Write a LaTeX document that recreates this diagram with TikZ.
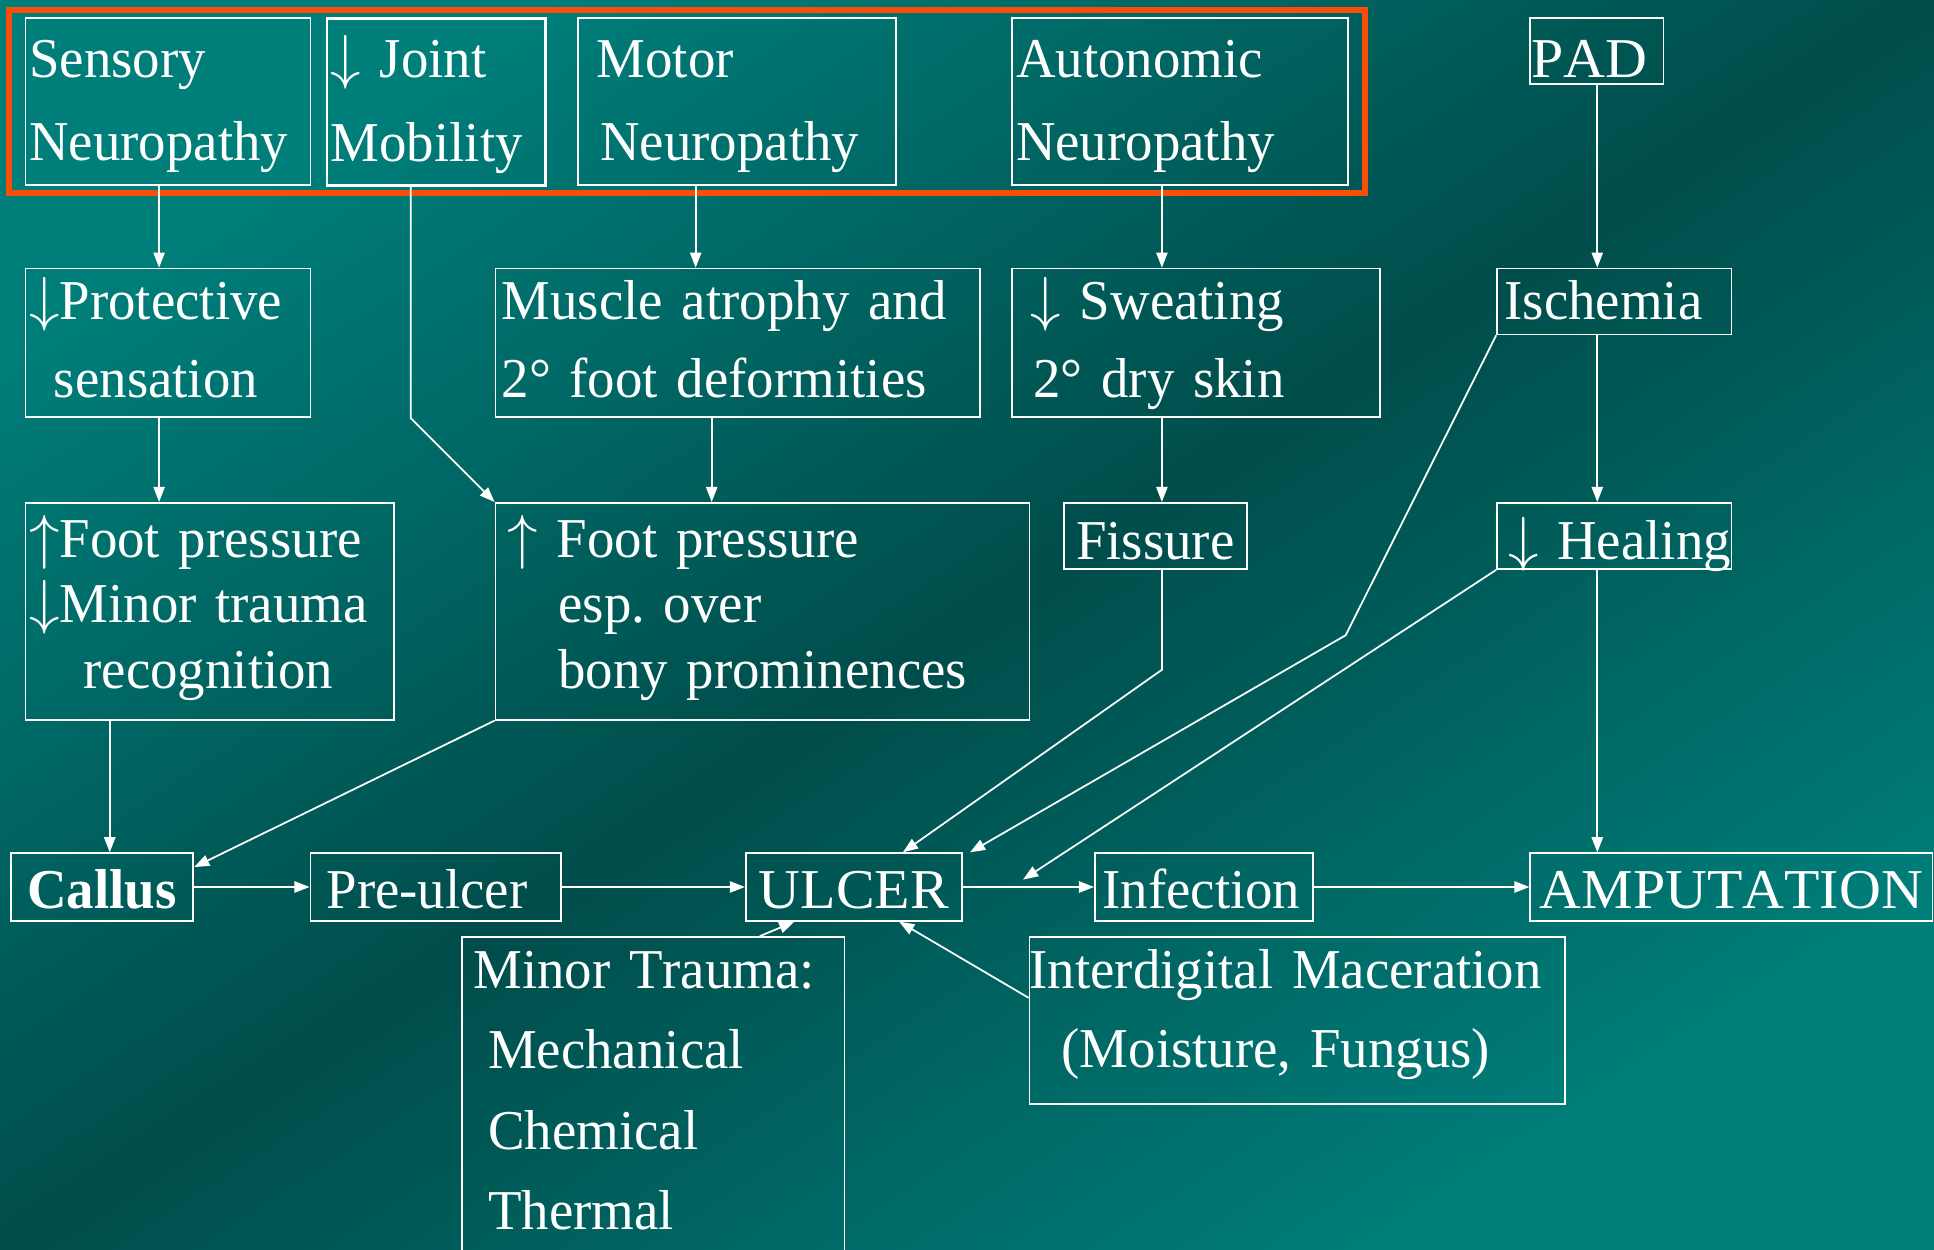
\documentclass[tikz,border=0pt]{standalone}
\usepackage{fontspec}
\setmainfont[Kerning=Off, FakeStretch=0.975]{Liberation Serif}
\newfontfamily\capsfont[Kerning=Off, FakeStretch=1.03]{Liberation Serif}
\usepackage{xcolor}
\usetikzlibrary{arrows.meta,fit}
\frenchspacing

\definecolor{tealL}{RGB}{0,126,122}
\definecolor{tealD}{RGB}{0,77,75}
\definecolor{hiorange}{RGB}{250,78,8}
\newlength{\pxu}
\setlength{\pxu}{0.0123342cm}
\newcommand{\fh}[1]{\rule{0pt}{#1\pxu}}
\newcommand{\ld}[1]{\rule[-#1\pxu]{0pt}{0pt}}
\newcommand{\dn}{$\downarrow$}
\newcommand{\up}{$\uparrow$}

\begin{document}
\begin{tikzpicture}[
      x=0.0123342cm, y=-0.0123342cm,
      box/.style={draw=white, line width=0.5pt, text=white, anchor=north west,
                  inner xsep=3\pxu, inner ysep=0pt, align=left,
                  font=\fontsize{16pt}{20pt}\selectfont},
      lsp/.style={font=\fontsize{16pt}{#1}\selectfont},
      one/.style 2 args={text height=#1\pxu, text depth=#2\pxu},
      arr/.style={draw=white, line width=0.5pt, -{Triangle[length=4.3pt,width=3.2pt]}},
      hilite/.style={draw=hiorange, line width=1.7pt, inner xsep=13\pxu, inner ysep=6\pxu}
    ]
    \useasboundingbox (0,0) rectangle (1568,1013);
    \clip (0,0) rectangle (1568,1013);
    \shade[top color=tealL, bottom color=tealL, middle color=tealD, shading angle=33]
      (0,0) rectangle (1568,1013);

    % Causes row
    \node[box, lsp=23.7pt, text width=225\pxu] (sens) at (20,14) {\fh{48}Sensory\\Neuropathy\ld{19.6}};
    \node[box, lsp=23.7pt, text width=171\pxu, line width=0.75pt] (joint) at (264,14) {\fh{48}\dn{} Joint\\Mobility\ld{19.6}};
    \node[box, lsp=23.7pt, text width=252\pxu] (motor) at (468,14) {\fh{48}\hspace*{12\pxu}Motor\\\hspace*{15\pxu}Neuropathy\ld{19.6}};
    \node[box, lsp=23.7pt, text width=266\pxu] (auto) at (820,14) {\fh{48}Autonomic\\Neuropathy\ld{19.6}};
    \node[box, one={48}{5.4}, text width=102\pxu] (pad) at (1240,14) {\hspace*{-2\pxu}\mbox{\capsfont PAD}};
    \node[hilite, fit=(sens)(auto)] (neuro) {};

    % Second row
    \node[box, lsp=22.3pt, text width=225\pxu] (prot) at (20,217) {\fh{41.3}\dn{}Protective\\\hspace*{20\pxu}sensation\ld{15.7}};
    \node[box, lsp=22.3pt, text width=387\pxu] (musc) at (401,217) {\fh{41.3}\hspace*{2\pxu}Muscle atrophy and\\\hspace*{2\pxu}2° foot deformities\ld{15.7}};
    \node[box, lsp=22.3pt, text width=292\pxu] (sweat) at (820,217) {\fh{41.3}\hspace*{12\pxu}\dn{} Sweating\\\hspace*{14\pxu}2° dry skin\ld{15.7}};
    \node[box, one={41.4}{12}, text width=184\pxu] (isch) at (1213,217) {\hspace*{3\pxu}\mbox{Ischemia}};

    % Third row
    \node[box, lsp=18.5pt, text width=293\pxu] (press) at (20,407) {\fh{44.6}\up{}Foot pressure\\\dn{}Minor trauma\\\hspace*{44\pxu}recognition\ld{25.7}};
    \node[box, lsp=18.5pt, text width=427\pxu] (bony) at (401,407) {\fh{44.6}\hspace*{7\pxu}\up{} Foot pressure\\\hspace*{48\pxu}esp. over\\\hspace*{48\pxu}bony prominences\ld{25.7}};
    \node[box, one={45.6}{8}, text width=142\pxu, align=center] (fiss) at (862,407) {\mbox{Fissure}};
    \node[box, one={45.6}{8}, text width=184\pxu] (heal) at (1213,407) {\hspace*{6\pxu}\mbox{\dn{} Healing}};

    % Ulcer row
    \node[box, one={45}{9.8}, text width=142\pxu, align=center] (callus) at (8,691) {\textbf{Callus}};
    \node[box, one={45}{9.8}, text width=197\pxu] (pre) at (251,691) {\hspace*{10\pxu}\mbox{Pre-ulcer}};
    \node[box, one={45}{9.8}, text width=169\pxu, align=center] (ulcer) at (604,691) {\capsfont ULCER};
    \node[box, one={45}{9.8}, text width=171\pxu] (infect) at (887,691) {\hspace*{3\pxu}\mbox{Infection}};
    \node[box, one={45}{9.8}, text width=320\pxu, align=center] (amp) at (1240,691) {\capsfont AMPUTATION};

    % Bottom row
    \node[box, lsp=22.9pt, text width=304\pxu] (trauma) at (374,759) {\fh{41.4}\hspace*{6\pxu}Minor Trauma:\\\hspace*{18\pxu}Mechanical\\\hspace*{18\pxu}Chemical\\\hspace*{18\pxu}Thermal\ld{20}};
    \node[box, lsp=22.7pt, text width=428\pxu] (macer) at (834,759) {\fh{41.4}\hspace*{-3\pxu}Interdigital Maceration\\\hspace*{23\pxu}(Moisture, Fungus)\ld{29.2}};

    \coordinate (fbend) at (942,543);
    \coordinate (ibend) at (1091,515);

    % Connectors
    \draw[arr] ([xshift=109\pxu]sens.south west) -- ([xshift=109\pxu]prot.north west);
    \draw[arr] ([xshift=109\pxu]prot.south west) -- ([xshift=109\pxu]press.north west);
    \draw[arr] ([xshift=69\pxu]press.south west) -- ([xshift=81\pxu]callus.north west);
    \draw[arr] ([xshift=69\pxu]joint.south west) -- ([xshift=69\pxu]joint.south west |- musc.south) -- (bony.north west);
    \draw[arr] ([xshift=96\pxu]motor.south west) -- ([xshift=163\pxu]musc.north west);
    \draw[arr] ([xshift=176\pxu]musc.south west) -- ([xshift=176\pxu]bony.north west);
    \draw[arr] ([xshift=122\pxu]auto.south west) -- ([xshift=122\pxu]sweat.north west);
    \draw[arr] ([xshift=122\pxu]sweat.south west) -- ([xshift=80\pxu]fiss.north west);
    \draw[arr] ([xshift=55\pxu]pad.south west) -- ([xshift=82\pxu]isch.north west);
    \draw[arr] ([xshift=82\pxu]isch.south west) -- ([xshift=82\pxu]heal.north west);
    \draw[arr] ([xshift=82\pxu]heal.south west) -- ([xshift=55\pxu]amp.north west);

    \draw[arr] (bony.south west) -- ([yshift=-12\pxu]callus.north east);
    \draw[arr] ([xshift=80\pxu]fiss.south west) -- (fbend) -- ([xshift=128\pxu]ulcer.north west);
    \draw[arr] (isch.south west) -- (ibend) -- ([xshift=6\pxu]ulcer.north east);
    \draw[arr] (heal.south west) -- ([xshift=49\pxu,yshift=6\pxu]ulcer.east);
    \draw[arr] ([xshift=242\pxu]trauma.north west) -- ([xshift=40\pxu]ulcer.south west);
    \draw[arr] ([yshift=-50\pxu]macer.north west) -- ([xshift=125\pxu]ulcer.south west);

    \draw[arr] (callus.east) -- (pre.west);
    \draw[arr] (pre.east) -- (ulcer.west);
    \draw[arr] (ulcer.east) -- (infect.west);
    \draw[arr] (infect.east) -- (amp.west);
  \end{tikzpicture}
\end{document}
